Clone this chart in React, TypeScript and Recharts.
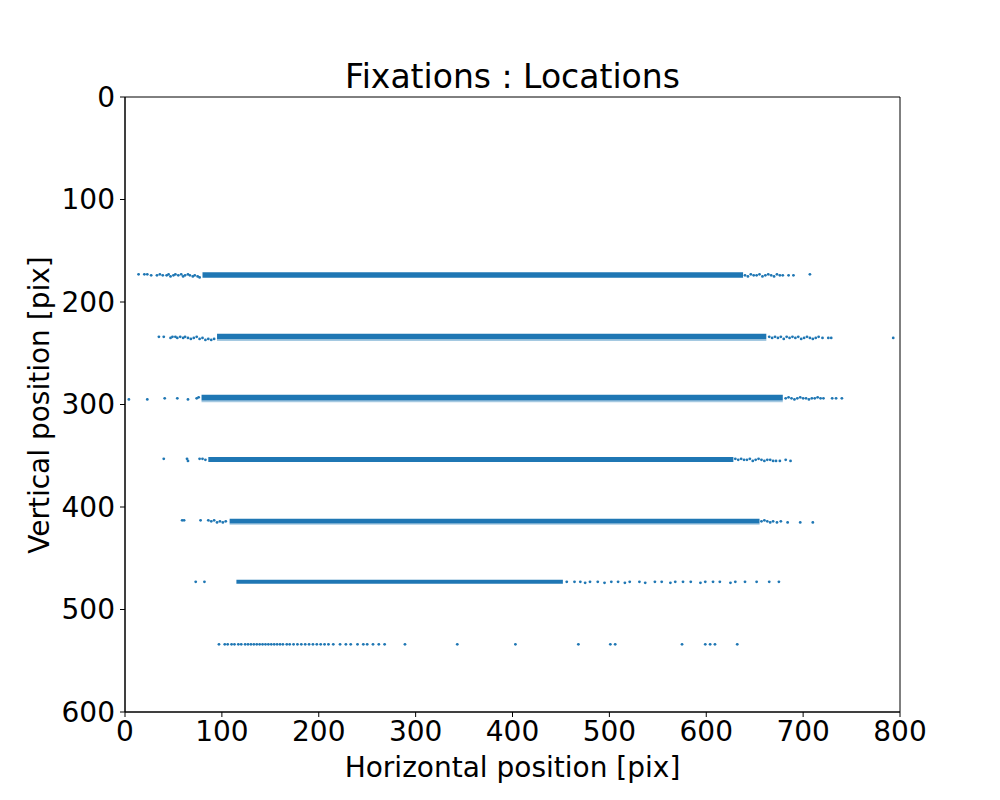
import React from 'react';
import { ScatterChart, Scatter, XAxis, YAxis, ReferenceArea } from 'recharts';

const FONT = 'DejaVu Sans, sans-serif';
const BLUE = '#1f77b4';

const xTicks = [0, 100, 200, 300, 400, 500, 600, 700, 800];
const yTicks = [0, 100, 200, 300, 400, 500, 600];

// dense parts of each text line, drawn as solid bands
const bandX1 = [80, 95, 79, 86, 108, 115];
const bandX2 = [638, 662, 679, 628, 655, 452];
const bandTop = [171.0, 231.0, 290.5, 351.2, 411.4, 471.0];
const bandBottom = [176.3, 236.3, 296.0, 356.1, 416.2, 474.8];

// stippled fringe right under a few of the bands
const fringeX1 = [95, 79, 108];
const fringeX2 = [662, 679, 655];
const fringeTop = [236.3, 296.0, 416.2];
const fringeBottom = [238.0, 297.8, 417.4];

// scattered fixations outside the dense parts
const row1 = [
  { x: 14, y: 173 }, { x: 20, y: 173 }, { x: 23, y: 173 }, { x: 27, y: 174 }, { x: 33, y: 174 },
  { x: 36, y: 173 }, { x: 39, y: 174 }, { x: 43, y: 174 }, { x: 45, y: 173 }, { x: 47, y: 175 },
  { x: 50, y: 174 }, { x: 52, y: 173 }, { x: 55, y: 174 }, { x: 58, y: 173 }, { x: 60, y: 175 },
  { x: 62, y: 174 }, { x: 65, y: 173 }, { x: 67, y: 174 }, { x: 70, y: 175 }, { x: 72, y: 174 },
  { x: 75, y: 175 }, { x: 77, y: 176 }, { x: 640, y: 174 }, { x: 643, y: 175 }, { x: 646, y: 173 },
  { x: 649, y: 174 }, { x: 652, y: 174 }, { x: 655, y: 173 }, { x: 658, y: 175 }, { x: 661, y: 174 },
  { x: 664, y: 173 }, { x: 667, y: 174 }, { x: 670, y: 175 }, { x: 673, y: 173 }, { x: 676, y: 174 },
  { x: 679, y: 174 }, { x: 685, y: 174 }, { x: 690, y: 174 }, { x: 707, y: 173 },
];
const row2 = [
  { x: 35, y: 234 }, { x: 40, y: 234 }, { x: 47, y: 235 }, { x: 49, y: 234 }, { x: 52, y: 234 },
  { x: 54, y: 235 }, { x: 57, y: 234 }, { x: 60, y: 235 }, { x: 62, y: 234 }, { x: 65, y: 235 },
  { x: 68, y: 236 }, { x: 71, y: 235 }, { x: 74, y: 234 }, { x: 77, y: 236 }, { x: 80, y: 235 },
  { x: 83, y: 237 }, { x: 86, y: 236 }, { x: 89, y: 237 }, { x: 92, y: 236 }, { x: 665, y: 234 },
  { x: 668, y: 235 }, { x: 671, y: 234 }, { x: 674, y: 235 }, { x: 677, y: 234 }, { x: 680, y: 236 },
  { x: 683, y: 234 }, { x: 686, y: 235 }, { x: 689, y: 234 }, { x: 692, y: 235 }, { x: 695, y: 234 },
  { x: 698, y: 236 }, { x: 701, y: 235 }, { x: 704, y: 234 }, { x: 707, y: 235 }, { x: 710, y: 236 },
  { x: 713, y: 235 }, { x: 716, y: 234 }, { x: 720, y: 235 }, { x: 726, y: 235 }, { x: 729, y: 235 },
  { x: 793, y: 235 },
];
const row3 = [
  { x: 4, y: 295 }, { x: 23, y: 295 }, { x: 41, y: 294 }, { x: 54, y: 294 }, { x: 65, y: 295 },
  { x: 74, y: 294 }, { x: 76, y: 293 }, { x: 682, y: 294 }, { x: 685, y: 293 }, { x: 688, y: 294 },
  { x: 691, y: 295 }, { x: 694, y: 294 }, { x: 697, y: 293 }, { x: 700, y: 294 }, { x: 703, y: 294 },
  { x: 706, y: 295 }, { x: 709, y: 294 }, { x: 712, y: 294 }, { x: 715, y: 293 }, { x: 718, y: 294 },
  { x: 721, y: 294 }, { x: 730, y: 294 }, { x: 734, y: 294 }, { x: 740, y: 294 },
];
const row4 = [
  { x: 40, y: 353 }, { x: 64, y: 353 }, { x: 65, y: 355 }, { x: 77, y: 353 }, { x: 80, y: 353 },
  { x: 83, y: 354 }, { x: 630, y: 353 }, { x: 633, y: 354 }, { x: 636, y: 353 }, { x: 639, y: 354 },
  { x: 642, y: 354 }, { x: 645, y: 353 }, { x: 648, y: 355 }, { x: 651, y: 354 }, { x: 654, y: 353 },
  { x: 657, y: 354 }, { x: 660, y: 355 }, { x: 663, y: 354 }, { x: 666, y: 354 }, { x: 669, y: 355 },
  { x: 672, y: 355 }, { x: 676, y: 355 }, { x: 682, y: 354 }, { x: 687, y: 355 },
];
const row5 = [
  { x: 59, y: 413 }, { x: 61, y: 413 }, { x: 78, y: 413 }, { x: 86, y: 413 }, { x: 89, y: 414 },
  { x: 92, y: 413 }, { x: 95, y: 415 }, { x: 98, y: 414 }, { x: 101, y: 415 }, { x: 104, y: 414 },
  { x: 657, y: 414 }, { x: 660, y: 413 }, { x: 663, y: 414 }, { x: 666, y: 415 }, { x: 669, y: 414 },
  { x: 673, y: 415 }, { x: 677, y: 414 }, { x: 684, y: 415 }, { x: 697, y: 415 }, { x: 710, y: 415 },
];
const row6 = [
  { x: 73, y: 473 }, { x: 82, y: 473 }, { x: 456, y: 473 }, { x: 464, y: 473 }, { x: 470, y: 473 },
  { x: 475, y: 474 }, { x: 480, y: 473 }, { x: 488, y: 473 }, { x: 495, y: 474 }, { x: 502, y: 473 },
  { x: 509, y: 473 }, { x: 516, y: 474 }, { x: 521, y: 473 }, { x: 531, y: 473 }, { x: 537, y: 474 },
  { x: 547, y: 473 }, { x: 554, y: 473 }, { x: 563, y: 474 }, { x: 568, y: 473 }, { x: 576, y: 473 },
  { x: 584, y: 473 }, { x: 594, y: 474 }, { x: 599, y: 473 }, { x: 607, y: 473 }, { x: 614, y: 473 },
  { x: 625, y: 474 }, { x: 630, y: 473 }, { x: 640, y: 473 }, { x: 652, y: 473 }, { x: 665, y: 473 },
  { x: 675, y: 473 },
];
const row7 = [
  { x: 97, y: 534 }, { x: 103, y: 534 }, { x: 106, y: 534 }, { x: 110, y: 534 }, { x: 113, y: 534 },
  { x: 117, y: 534 }, { x: 120, y: 534 }, { x: 124, y: 534 }, { x: 127, y: 534 }, { x: 130, y: 534 },
  { x: 133, y: 534 }, { x: 136, y: 534 }, { x: 139, y: 534 }, { x: 142, y: 534 }, { x: 145, y: 534 },
  { x: 148, y: 534 }, { x: 151, y: 534 }, { x: 154, y: 534 }, { x: 157, y: 534 }, { x: 160, y: 534 },
  { x: 163, y: 534 }, { x: 167, y: 534 }, { x: 170, y: 534 }, { x: 174, y: 534 }, { x: 178, y: 534 },
  { x: 182, y: 534 }, { x: 186, y: 534 }, { x: 190, y: 534 }, { x: 194, y: 534 }, { x: 198, y: 534 },
  { x: 202, y: 534 }, { x: 206, y: 534 }, { x: 210, y: 534 }, { x: 215, y: 534 }, { x: 222, y: 534 },
  { x: 228, y: 534 }, { x: 233, y: 534 }, { x: 240, y: 534 }, { x: 246, y: 534 }, { x: 250, y: 534 },
  { x: 256, y: 534 }, { x: 262, y: 534 }, { x: 268, y: 534 }, { x: 289, y: 534 }, { x: 343, y: 534 },
  { x: 403, y: 534 }, { x: 468, y: 534 }, { x: 501, y: 534 }, { x: 506, y: 534 }, { x: 575, y: 534 },
  { x: 599, y: 534 }, { x: 604, y: 534 }, { x: 609, y: 534 }, { x: 632, y: 534 },
];
const rows = [row1, row2, row3, row4, row5, row6, row7];

const Dot = (props: any) => <circle cx={props.cx} cy={props.cy} r={1.4} fill={BLUE} />;

const tickStyle = { fill: '#000', fontSize: 28, fontFamily: FONT };

export default function App() {
  return (
    <div style={{ position: 'absolute', left: 0, top: 0, width: 1000, height: 800, background: '#fff' }}>
      <div
        style={{
          position: 'absolute', left: 125, width: 775, top: 57, textAlign: 'center',
          fontFamily: FONT, fontSize: 33, lineHeight: '40px', color: '#000',
        }}
      >
        Fixations : Locations
      </div>
      <ScatterChart width={1000} height={800} margin={{ top: 97, right: 100, bottom: 28, left: 45 }}>
        <XAxis
          type="number"
          dataKey="x"
          domain={[0, 800]}
          ticks={xTicks}
          interval={0}
          tick={tickStyle}
          tickSize={5}
          tickMargin={4}
          height={60}
          stroke="#000"
          allowDataOverflow
          label={{
            content: ({ viewBox }: any) => (
              <text x={viewBox.x + viewBox.width / 2} y={777} textAnchor="middle" fontFamily={FONT} fontSize={28} fill="#000">
                Horizontal position [pix]
              </text>
            ),
          }}
        />
        <YAxis
          type="number"
          dataKey="y"
          domain={[0, 600]}
          reversed
          ticks={yTicks}
          interval={0}
          tick={tickStyle}
          tickSize={5}
          tickMargin={5}
          width={80}
          stroke="#000"
          allowDataOverflow
          label={{
            content: () => (
              <text x={49} y={405} transform="rotate(-90 49 405)" textAnchor="middle" fontFamily={FONT} fontSize={28} fill="#000">
                Vertical position [pix]
              </text>
            ),
          }}
        />
        {bandX1.map((x1, i) => (
          <ReferenceArea key={'b' + i} x1={x1} x2={bandX2[i]} y1={bandTop[i]} y2={bandBottom[i]} fill={BLUE} fillOpacity={1} stroke="none" />
        ))}
        {fringeX1.map((x1, i) => (
          <ReferenceArea key={'f' + i} x1={x1} x2={fringeX2[i]} y1={fringeTop[i]} y2={fringeBottom[i]} fill={BLUE} fillOpacity={0.4} stroke="none" />
        ))}
        {rows.map((r, i) => (
          <Scatter key={'r' + i} data={r} fill={BLUE} shape={Dot} isAnimationActive={false} />
        ))}
        {/* axes frame (top and right spines) */}
        <ReferenceArea x1={0} x2={800} y1={0} y2={600} fill="none" fillOpacity={0} stroke="#000" strokeWidth={1} ifOverflow="visible" />
      </ScatterChart>
    </div>
  );
}
